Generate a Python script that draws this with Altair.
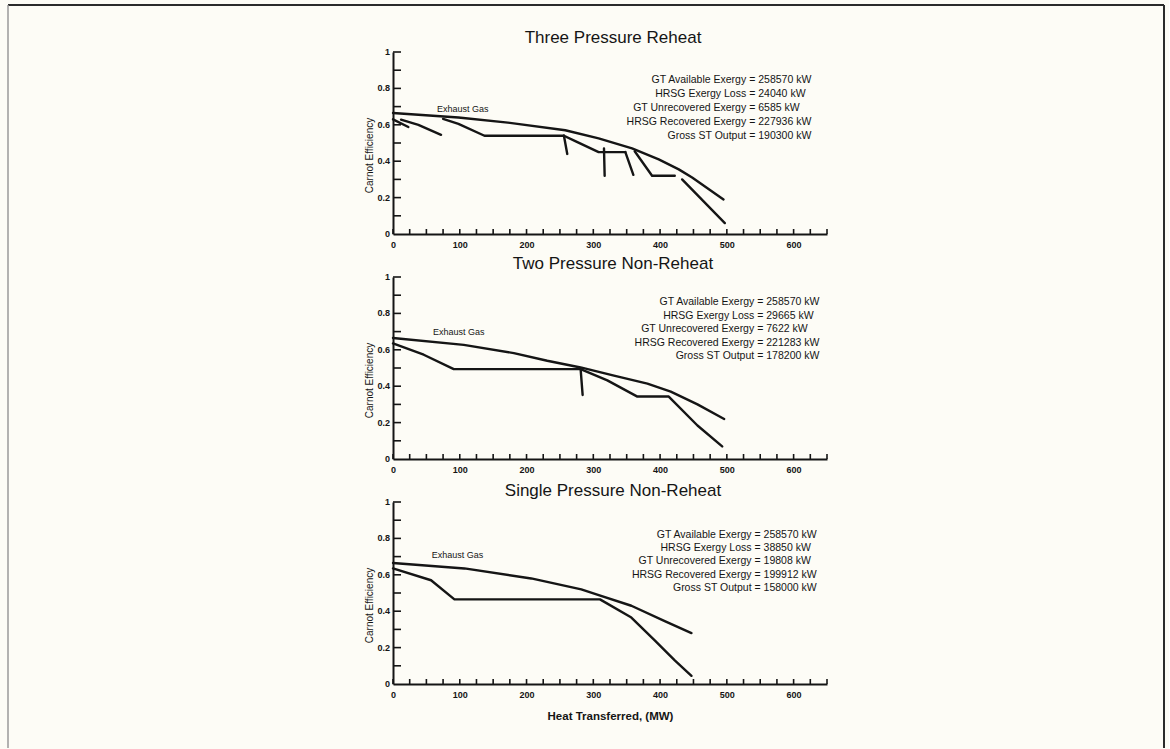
import altair as alt
import pandas as pd

# ---------------------------------------------------------------------------
# Data: heat-transfer diagrams (heat transferred in MW vs Carnot efficiency)
# Each steam/water side polyline is a (x list, y list) pair.
# ---------------------------------------------------------------------------

# Three pressure reheat
three_gas_x = [0, 98, 172, 258, 308, 358, 398, 428, 448, 495]
three_gas_y = [0.665, 0.64, 0.612, 0.57, 0.525, 0.47, 0.41, 0.355, 0.31, 0.19]
three_water = [
    ([0, 23], [0.63, 0.588]),
    ([12, 38, 72], [0.628, 0.60, 0.545]),
    ([75, 98, 137, 256], [0.632, 0.605, 0.54, 0.54]),
    ([256, 261], [0.54, 0.44]),
    ([256, 273, 308, 348], [0.54, 0.51, 0.45, 0.45]),
    ([316, 317], [0.47, 0.32]),
    ([348, 360], [0.45, 0.325]),
    ([362, 388, 422], [0.455, 0.32, 0.32]),
    ([433, 497], [0.30, 0.06]),
]
three_values = ["258570 kW", "24040 kW", "6585 kW", "227936 kW", "190300 kW"]

# Two pressure non-reheat
two_gas_x = [0, 106, 181, 231, 281, 331, 381, 416, 456, 496]
two_gas_y = [0.665, 0.627, 0.582, 0.54, 0.503, 0.458, 0.414, 0.37, 0.30, 0.22]
two_water = [
    ([0, 46, 91, 281, 321, 366, 413, 456, 493],
     [0.635, 0.573, 0.494, 0.494, 0.432, 0.343, 0.343, 0.184, 0.069]),
    ([281, 284], [0.494, 0.352]),
]
two_values = ["258570 kW", "29665 kW", "7622 kW", "221283 kW", "178200 kW"]

# Single pressure non-reheat
single_gas_x = [0, 107, 207, 282, 307, 357, 407, 447]
single_gas_y = [0.665, 0.635, 0.58, 0.52, 0.49, 0.43, 0.345, 0.28]
single_water = [
    ([0, 57, 92, 310, 357, 392, 422, 447],
     [0.635, 0.57, 0.465, 0.465, 0.365, 0.24, 0.13, 0.045]),
]
single_values = ["258570 kW", "38850 kW", "19808 kW", "199912 kW", "158000 kW"]

exergy_names = [
    "GT Available Exergy",
    "HRSG Exergy Loss",
    "GT Unrecovered Exergy",
    "HRSG Recovered Exergy",
    "Gross ST Output",
]

x_label_values = [0, 100, 200, 300, 400, 500, 600]
y_label_values = [0, 0.2, 0.4, 0.6, 0.8, 1]
y_label_texts = ["0", "0.2", "0.4", "0.6", "0.8", "1"]

# ---------------------------------------------------------------------------
# Layout / style
# ---------------------------------------------------------------------------
FONT = "Liberation Sans"
INK = "#151515"
W = 434
H = 182
X_DOMAIN = [0, 650]
Y_DOMAIN = [0, 1]

panels = [
    dict(title="Three Pressure Reheat", gas=(three_gas_x, three_gas_y),
         water=three_water, values=three_values, title_y=-14,
         ann_x=532, ann_top=0.846, ann_step=0.077, gas_lbl=(66, 0.685)),
    dict(title="Two Pressure Non-Reheat", gas=(two_gas_x, two_gas_y),
         water=two_water, values=two_values, title_y=-13,
         ann_x=544, ann_top=0.86, ann_step=0.074, gas_lbl=(60, 0.70)),
    dict(title="Single Pressure Non-Reheat", gas=(single_gas_x, single_gas_y),
         water=single_water, values=single_values, title_y=-11,
         ann_x=540, ann_top=0.82, ann_step=0.073, gas_lbl=(58, 0.71)),
]


def line_table(cfg):
    rows = []
    segs = [cfg["gas"]] + list(cfg["water"])
    for s, (xs, ys) in enumerate(segs):
        for i, (xv, yv) in enumerate(zip(xs, ys)):
            rows.append({"seg": s, "i": i, "q": xv, "eff": yv})
    return pd.DataFrame(rows)


def build_panel(cfg, bottom, frame):
    xs = alt.Scale(domain=X_DOMAIN, nice=False, zero=False)
    ys = alt.Scale(domain=Y_DOMAIN, nice=False, zero=False)

    x_axis_kw = dict(values=x_label_values, format="d", labelPadding=6)
    if bottom:
        x_axis_kw["title"] = "Heat Transferred, (MW)"
        x_axis_kw["titlePadding"] = 11
        x_axis_kw["titleFontSize"] = 11.5
        x_axis_kw["titleFontWeight"] = "bold"
    else:
        x_axis_kw["title"] = ""

    lines = alt.Chart(line_table(cfg)).mark_line(
        color=INK, strokeWidth=2.4, strokeJoin="round", strokeCap="round"
    ).encode(
        x=alt.X("q:Q", scale=xs, axis=alt.Axis(**x_axis_kw)),
        y=alt.Y("eff:Q", scale=ys, axis=alt.Axis(
            values=y_label_values, labels=False, title="Carnot Efficiency",
            titlePadding=19, titleY=H / 2 + 12)),
        detail="seg:N",
        order="i:Q",
    )

    # inward tick marks along both axes
    xticks = alt.Chart(pd.DataFrame({"q": list(range(0, 651, 25))})).mark_rule(
        color=INK, strokeWidth=1.6
    ).encode(
        x=alt.X("q:Q", scale=xs),
        y=alt.value(H), y2=alt.value(H - 5),
    )
    yticks = alt.Chart(pd.DataFrame({"eff": [round(0.1 * k, 1) for k in range(1, 11)]})).mark_rule(
        color=INK, strokeWidth=1.6
    ).encode(
        y=alt.Y("eff:Q", scale=ys),
        x=alt.value(0), x2=alt.value(8),
    )
    # efficiency tick labels
    ylabels = alt.Chart(pd.DataFrame({"eff": y_label_values, "lab": y_label_texts})).mark_text(
        font=FONT, fontSize=9, fontWeight="bold", color=INK, align="right", baseline="middle"
    ).encode(
        y=alt.Y("eff:Q", scale=ys),
        x=alt.value(-3),
        text="lab:N",
    )

    title = alt.Chart(pd.DataFrame({"t": [cfg["title"]]})).mark_text(
        font=FONT, fontSize=17, color=INK, baseline="middle", align="center"
    ).encode(text="t:N", x=alt.value(W / 2 + 3), y=alt.value(cfg["title_y"]))

    gx, gy = cfg["gas_lbl"]
    gas_label = alt.Chart(pd.DataFrame({"t": ["Exhaust Gas"], "q": [gx], "eff": [gy]})).mark_text(
        font=FONT, fontSize=9, color=INK, align="left", baseline="middle"
    ).encode(
        text="t:N",
        x=alt.X("q:Q", scale=xs),
        y=alt.Y("eff:Q", scale=ys),
    )

    ann = pd.DataFrame({
        "name": exergy_names,
        "val": ["= " + v for v in cfg["values"]],
        "q": [cfg["ann_x"]] * len(exergy_names),
        "eff": [cfg["ann_top"] - k * cfg["ann_step"] for k in range(len(exergy_names))],
    })
    ann_names = alt.Chart(ann).mark_text(
        font=FONT, fontSize=10.5, color=INK, align="right", baseline="middle", dx=-2
    ).encode(
        text="name:N",
        x=alt.X("q:Q", scale=xs),
        y=alt.Y("eff:Q", scale=ys),
    )
    ann_vals = alt.Chart(ann).mark_text(
        font=FONT, fontSize=10.5, color=INK, align="left", baseline="middle", dx=1
    ).encode(
        text="val:N",
        x=alt.X("q:Q", scale=xs),
        y=alt.Y("eff:Q", scale=ys),
    )

    layers = [lines, xticks, yticks, ylabels, title, gas_label, ann_names, ann_vals]

    if frame:
        # page border around the whole figure
        one = pd.DataFrame({"k": [0]})
        top = alt.Chart(one).mark_rule(color="#2b2b2b", strokeWidth=2).encode(
            x=alt.value(-385), x2=alt.value(771), y=alt.value(-47), y2=alt.value(-47))
        left = alt.Chart(one).mark_rule(color="#9a9a9a", strokeWidth=1.5).encode(
            x=alt.value(-385), x2=alt.value(-385), y=alt.value(-47), y2=alt.value(696))
        right = alt.Chart(one).mark_rule(color="#2b2b2b", strokeWidth=2).encode(
            x=alt.value(771), x2=alt.value(771), y=alt.value(-47), y2=alt.value(696))
        layers += [top, left, right]

    return alt.layer(*layers).properties(width=W, height=H)


charts = [build_panel(c, bottom=(k == 2), frame=(k == 0)) for k, c in enumerate(panels)]

chart = alt.vconcat(*charts, spacing=43, bounds="flush").properties(
    background="#fdfcf6",
    padding={"left": 7, "top": 4, "right": 4, "bottom": 0},
).configure_view(
    stroke=None
).configure_axis(
    domainColor=INK, domainWidth=2, ticks=False, tickSize=0, grid=False,
    labelOverlap=False, labelFlush=False,
    labelFont=FONT, labelFontSize=9, labelFontWeight="bold", labelColor=INK,
    titleFont=FONT, titleFontSize=10, titleFontWeight="normal", titleColor=INK,
)

chart.save("out.html", embed_options={"renderer": "svg", "actions": False})
